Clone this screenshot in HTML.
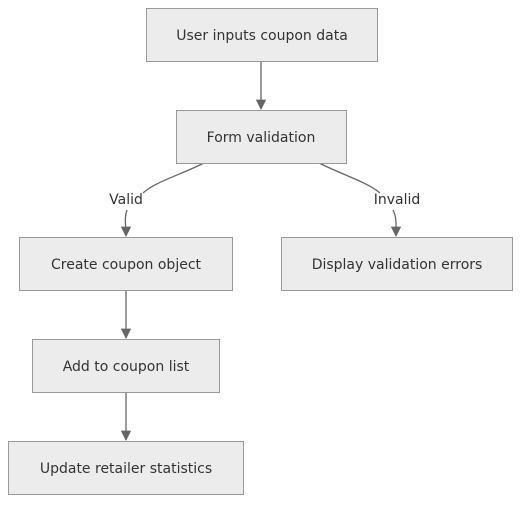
<!DOCTYPE html>
<html><head><meta charset="utf-8"><style>
html,body{margin:0;padding:0;background:#fff;}
svg{display:block;}
text{font-family:"DejaVu Sans","Liberation Sans",sans-serif;font-size:14px;fill:#333;}
</style></head><body>
<svg width="528" height="510" viewBox="0 0 528 510" xmlns="http://www.w3.org/2000/svg">
<defs><marker id="a" viewBox="0 0 10 10" refX="9" refY="5" markerWidth="8" markerHeight="8" orient="auto"><path d="M0,0L10,5L0,10z" fill="#666"/></marker></defs>
<g fill="none" stroke="#666" stroke-width="1.3">
<path d="M261,61V109" marker-end="url(#a)"/>
<path d="M204,163C180,175 155,182 143,193"/>
<path d="M127,210C124,218 126,226 126,236" marker-end="url(#a)"/>
<path d="M319,163C343,175 367,182 380,193"/>
<path d="M393,210C397,218 396,226 396,236" marker-end="url(#a)"/>
<path d="M126,290V338" marker-end="url(#a)"/>
<path d="M126,392V440" marker-end="url(#a)"/>
</g>
<g fill="#ececec" stroke="#999" stroke-width="1">
<rect x="146.5" y="8.5" width="231" height="53"/>
<rect x="176.5" y="110.5" width="170" height="53"/>
<rect x="19.5" y="237.5" width="213" height="53"/>
<rect x="281.5" y="237.5" width="231" height="53"/>
<rect x="32.5" y="339.5" width="187" height="53"/>
<rect x="8.5" y="441.5" width="235" height="53"/>
</g>
<g text-anchor="middle">
<text x="262" y="40">User inputs coupon data</text>
<text x="261" y="142">Form validation</text>
<text x="126" y="269">Create coupon object</text>
<text x="397" y="269">Display validation errors</text>
<text x="126" y="371">Add to coupon list</text>
<text x="126" y="473">Update retailer statistics</text>
<text x="126" y="204">Valid</text>
<text x="397" y="204">Invalid</text>
</g>
</svg>
</body></html>
